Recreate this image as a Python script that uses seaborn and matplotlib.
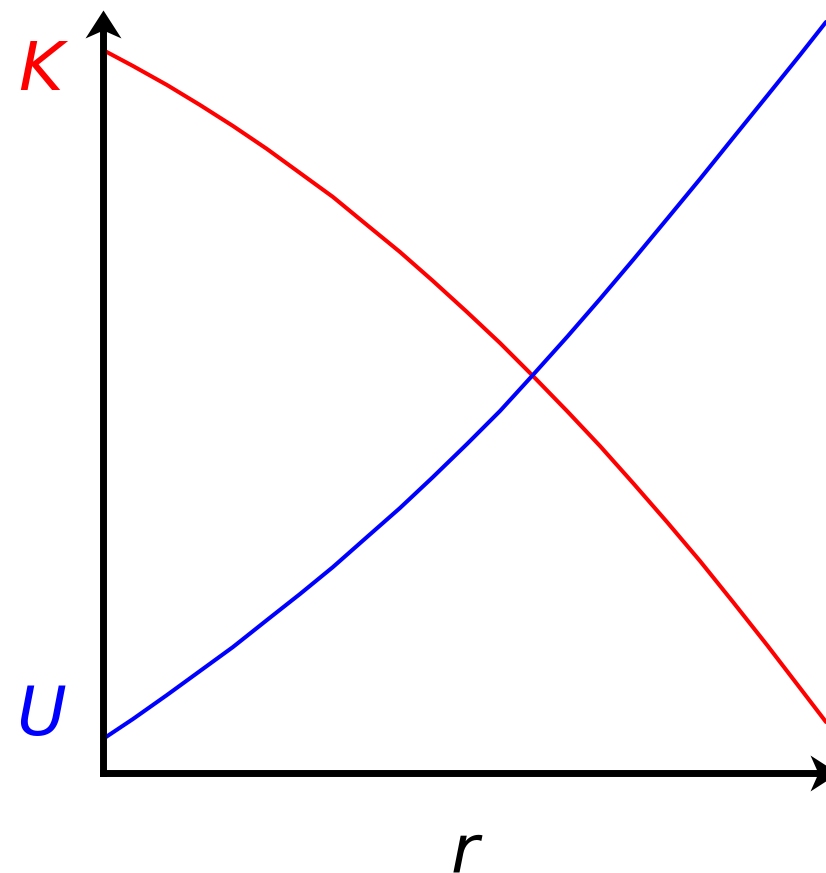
import matplotlib.pyplot as plt
import seaborn as sns

# values (r in arbitrary units, origin at the axes corner)
r_values = [0.00, 0.30, 0.64, 0.97, 1.30, 1.64, 1.97, 2.30, 2.64, 2.97, 3.30, 3.64,
            3.97, 4.29, 4.64, 4.97, 5.30, 5.64, 5.97, 6.30, 6.64, 6.97, 7.23]
kinetic = [7.23, 7.07, 6.88, 6.68, 6.47, 6.24, 6.00, 5.76, 5.48, 5.21, 4.92, 4.61,
           4.30, 3.98, 3.62, 3.27, 2.90, 2.51, 2.12, 1.71, 1.28, 0.85, 0.51]
potential = [0.34, 0.54, 0.78, 1.02, 1.26, 1.53, 1.79, 2.06, 2.36, 2.65, 2.96, 3.29,
             3.62, 3.97, 4.36, 4.74, 5.13, 5.54, 5.94, 6.35, 6.77, 7.18, 7.51]

labels = {'K': 'red', 'U': 'blue', 'r': 'black'}

sns.set_style('white')
plt.rcParams['font.family'] = ['DejaVu Sans']

fig = plt.figure(figsize=(8.26, 8.73), dpi=100)
ax = fig.add_axes([0, 0, 1, 1])

sns.lineplot(x=r_values, y=kinetic, color='red', lw=2.9, ax=ax, sort=False)
sns.lineplot(x=r_values, y=potential, color='blue', lw=2.9, ax=ax, sort=False)

ax.set_xlim(-1.03, 7.23)
ax.set_ylim(-1.0, 7.73)
ax.set_xticks([])
ax.set_yticks([])

# axes drawn as thick spines through the origin
for side in ['top', 'right']:
    ax.spines[side].set_visible(False)
for side in ['left', 'bottom']:
    ax.spines[side].set_position(('data', 0))
    ax.spines[side].set_linewidth(5)
    ax.spines[side].set_color('black')
ax.spines['left'].set_bounds(0, 7.45)
ax.spines['bottom'].set_bounds(0, 7.2)

# swept-back arrow heads
head_right = [(0, 0), (-28, 18), (-20, 0), (-28, -18), (0, 0)]
head_up = [(0, 0), (18, -28), (0, -20), (-18, -28), (0, 0)]
ax.plot([7.35], [0], marker=head_right, markersize=40.3, color='black',
        markeredgewidth=0, clip_on=False, zorder=5)
ax.plot([0], [7.63], marker=head_up, markersize=40.3, color='black',
        markeredgewidth=0, clip_on=False, zorder=5)

ax.text(-0.63, 6.83, 'K', color=labels['K'], fontsize=49, style='italic',
        ha='center', va='baseline')
ax.text(-0.62, 0.38, 'U', color=labels['U'], fontsize=49, style='italic',
        ha='center', va='baseline')
ax.text(3.62, -0.99, 'r', color=labels['r'], fontsize=49, style='italic',
        ha='center', va='baseline')

fig.savefig('out.png', dpi=100)
